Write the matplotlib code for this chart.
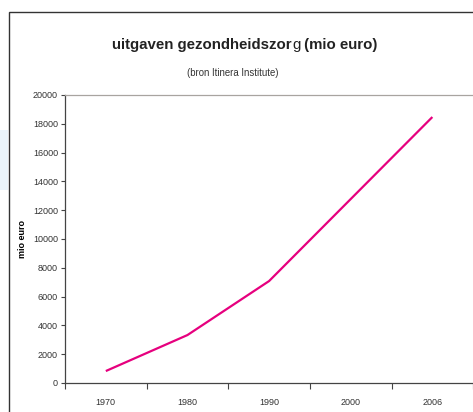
import matplotlib
matplotlib.use("Agg")
import matplotlib.pyplot as plt
from matplotlib.patches import Rectangle

plt.rcParams['font.family'] = ['Liberation Sans', 'DejaVu Sans']

years = ['1970', '1980', '1990', '2000', '2006']
plot_years = ['1970', '1980', '1990', '2006']
spending = [830, 3330, 7080, 18470]
y_ticks = list(range(0, 20001, 2000))

W, H = 473, 412
fig = plt.figure(figsize=(W / 100, H / 100), dpi=100)

# faint blue smudge left of the frame
fig.patches.append(Rectangle((0, (H - 190) / H), 8 / W, 60 / H,
                             transform=fig.transFigure, facecolor='#eaf4fa',
                             edgecolor='none'))
# outer chart frame (runs off the right and bottom)
fig.patches.append(Rectangle((9 / W, -0.05), 1.0, (H - 12) / H + 0.05,
                             transform=fig.transFigure, fill=False,
                             edgecolor='#333333', linewidth=1.0))

ax = fig.add_axes([65 / W, (H - 383) / H, (W - 65 + 40) / W, (383 - 95) / H])
ax.set_facecolor('white')

pos = {y: i for i, y in enumerate(years)}
xs = [pos[y] for y in plot_years]
ax.plot(xs, spending, color='#E6007E', linewidth=1.6, solid_capstyle='butt')

ax.set_xlim(-0.5, 4.5 + 40 / 82)
ax.set_ylim(0, 20000)
ax.set_yticks(y_ticks)
ax.set_yticklabels([str(v) for v in y_ticks], fontsize=6.5, color='#333333')
ax.set_xticks(range(len(years)))
ax.set_xticklabels(years, fontsize=6.5, color='#333333')
ax.set_xticks([i - 0.5 for i in range(len(years) + 1)], minor=True)
ax.tick_params(axis='x', which='major', length=0, pad=11)
ax.tick_params(axis='x', which='minor', length=4, color='#444444', width=0.8)
ax.tick_params(axis='y', length=3, color='#444444', width=0.8, pad=2)

ax.spines['left'].set_color('#444444')
ax.spines['bottom'].set_color('#444444')
ax.spines['left'].set_linewidth(0.9)
ax.spines['bottom'].set_linewidth(0.9)
ax.spines['top'].set_color('#a8a4a0')
ax.spines['top'].set_linewidth(0.9)
ax.spines['right'].set_visible(False)

ax.set_ylabel('mio euro', fontsize=6.5, fontweight='bold')
ax.yaxis.set_label_coords(-(65 - 27) / (W - 65 + 40), 0.5)

# title with the odd non-bold "g"
fig.canvas.draw()
r = fig.canvas.get_renderer()
parts = [('uitgaven gezondheidszor', 'bold'), ('g', 'normal'), (' (mio euro)', 'bold')]
texts = []
for s, w in parts:
    t = fig.text(0, 0, s, fontsize=10.8, fontweight=w, color='#222222', va='baseline')
    texts.append(t)
widths = [t.get_window_extent(r).width for t in texts]
x0 = 245 - sum(widths) / 2
for t, wd in zip(texts, widths):
    t.set_position((x0 / W, (H - 49) / H))
    x0 += wd

fig.text(233 / W, (H - 73) / H, '(bron Itinera Institute)', fontsize=6.9,
         ha='center', va='center', color='#333333')

fig.savefig('out.png', dpi=100)
